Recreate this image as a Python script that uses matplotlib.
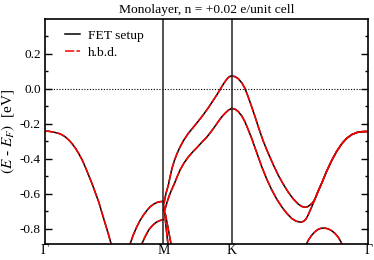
import numpy as np
import matplotlib
matplotlib.use("Agg")
import matplotlib.pyplot as plt

# ---- band data (k along G-M-K-G, energy in eV) ----
k_G, k_M, k_K, k_G2 = 0.0, 0.5774, 0.9107, 1.5774

band1_k = [0.0, 0.018, 0.0342, 0.050, 0.0668, 0.083, 0.0990, 0.1156, 0.1317, 0.148, 0.1644, 0.1805,
           0.1966, 0.213, 0.2293, 0.2454, 0.2620, 0.2864, 0.3108, 0.3235, 0.3330]
band1_e = [-0.242, -0.243, -0.246, -0.250, -0.255, -0.263, -0.275, -0.292, -0.313, -0.339, -0.370, -0.405,
           -0.447, -0.495, -0.542, -0.594, -0.647, -0.743, -0.838, -0.891, -0.930]

band2_k = [0.4080, 0.4147, 0.4300, 0.4474, 0.4630, 0.4796, 0.4960, 0.5123, 0.5290, 0.5450, 0.5610, 0.5774]
band2_e = [-0.930, -0.890, -0.838, -0.791, -0.755, -0.724, -0.698, -0.676, -0.661, -0.651, -0.646, -0.644]

band3_k = [0.4660, 0.4718, 0.4840, 0.4962, 0.5080, 0.5206, 0.5330, 0.5450, 0.5610, 0.5774]
band3_e = [-0.930, -0.890, -0.857, -0.829, -0.805, -0.787, -0.773, -0.762, -0.754, -0.748]

mk_up_k = [0.5774, 0.5806, 0.5900, 0.6016, 0.6110, 0.6196, 0.6300, 0.6426, 0.6580, 0.6748, 0.6990, 0.7236,
           0.7480, 0.7724, 0.7970, 0.8211, 0.8380, 0.8538, 0.8700, 0.8865, 0.8990, 0.9107]
mk_up_e = [-0.650, -0.655, -0.600, -0.552, -0.500, -0.455, -0.415, -0.375, -0.335, -0.298, -0.255, -0.220,
           -0.185, -0.148, -0.108, -0.065, -0.035, -0.005, 0.027, 0.055, 0.070, 0.074]

mk_lo_k = [0.5774, 0.5830, 0.5940, 0.6050, 0.6170, 0.6294, 0.6440, 0.6587, 0.6780, 0.6977, 0.7200, 0.7416,
           0.7660, 0.7904, 0.8150, 0.8392, 0.8590, 0.8782, 0.8950, 0.9107]
mk_lo_e = [-0.690, -0.700, -0.655, -0.615, -0.580, -0.548, -0.505, -0.465, -0.425, -0.392, -0.362, -0.336,
           -0.305, -0.275, -0.238, -0.198, -0.165, -0.140, -0.122, -0.112]

steep1_k = [0.5774, 0.5806, 0.5860, 0.5904, 0.5960, 0.6016, 0.6040]
steep1_e = [-0.660, -0.680, -0.735, -0.790, -0.848, -0.905, -0.930]
steep2_k = [0.5800, 0.5879, 0.5950, 0.6025, 0.6100, 0.6182, 0.6210]
steep2_e = [-0.700, -0.720, -0.763, -0.810, -0.858, -0.905, -0.930]

kg_up_k = [0.9107, 0.9270, 0.9431, 0.9600, 0.9758, 0.9920, 1.0085, 1.0250, 1.0407, 1.0650, 1.0895, 1.1140,
           1.1383, 1.1630, 1.1871, 1.2110, 1.2359, 1.2520, 1.2685, 1.2810, 1.2929, 1.3030, 1.3124,
           1.3173, 1.3330, 1.3500, 1.3740, 1.3988, 1.4230, 1.4476, 1.4720, 1.4964, 1.5210, 1.5452, 1.5774]
kg_up_e = [0.074, 0.070, 0.058, 0.035, 0.002, -0.048, -0.103, -0.160, -0.218, -0.300, -0.370, -0.435,
           -0.495, -0.547, -0.592, -0.630, -0.660, -0.673, -0.678, -0.675, -0.665, -0.655, -0.640,
           -0.630, -0.585, -0.540, -0.472, -0.410, -0.358, -0.315, -0.283, -0.262, -0.250, -0.245, -0.244]

kg_lo_k = [0.9107, 0.9270, 0.9431, 0.9600, 0.9758, 0.9920, 1.0085, 1.0330, 1.0573, 1.0820, 1.1061, 1.1300,
           1.1549, 1.1790, 1.2036, 1.2260, 1.2490, 1.2620, 1.2734, 1.2840, 1.2929, 1.3050, 1.3173, 1.3330,
           1.3500, 1.3740, 1.3988, 1.4230, 1.4476, 1.4720, 1.4964, 1.5210, 1.5452, 1.5774]
kg_lo_e = [-0.112, -0.116, -0.130, -0.155, -0.189, -0.235, -0.284, -0.365, -0.445, -0.517, -0.578, -0.630,
           -0.675, -0.712, -0.742, -0.758, -0.764, -0.758, -0.745, -0.722, -0.698, -0.665, -0.630, -0.585,
           -0.540, -0.472, -0.410, -0.358, -0.315, -0.283, -0.262, -0.250, -0.245, -0.244]

small_k = [1.2600, 1.2685, 1.2850, 1.3012, 1.3170, 1.3334, 1.3480, 1.3627, 1.3800, 1.3988, 1.4150, 1.4310,
           1.4430, 1.4554, 1.4640]
small_e = [-0.940, -0.905, -0.866, -0.838, -0.818, -0.804, -0.798, -0.797, -0.801, -0.812, -0.828, -0.850,
           -0.874, -0.905, -0.940]

bands = [(band1_k, band1_e), (band2_k, band2_e), (band3_k, band3_e),
         (mk_up_k, mk_up_e), (mk_lo_k, mk_lo_e), (steep1_k, steep1_e), (steep2_k, steep2_e),
         (kg_up_k, kg_up_e), (kg_lo_k, kg_lo_e), (small_k, small_e)]

tick_pos = [k_G, k_M, k_K, k_G2]
tick_labels = ["Γ", "M", "K", "Γ"]

plt.rcParams["font.family"] = ["Liberation Serif", "DejaVu Serif"]
plt.rcParams["mathtext.fontset"] = "stix"

fig = plt.figure(figsize=(3.74, 2.6), dpi=100)
ax = fig.add_axes([0.1203, 0.0604, 0.8645, 0.8665])

for i, (kk, ee) in enumerate(bands):
    ax.plot(kk, ee, color="black", lw=1.1, label="FET setup" if i == 0 else None)
for i, (kk, ee) in enumerate(bands):
    ax.plot(kk, ee, color="#ff0000", lw=1.1, dashes=(6, 1.5), label="h.b.d." if i == 0 else None)

ax.axhline(0.0, color="black", lw=0.8, ls=(0, (1, 1.5)))
for x in (k_M, k_K):
    ax.axvline(x, color="#222222", lw=1.1)

ax.set_xlim(k_G, k_G2)
ax.set_ylim(-0.89, 0.4)
ax.set_xticks(tick_pos)
ax.set_xticklabels(tick_labels, fontsize=10)
ax.tick_params(axis="x", length=0, pad=0)
ax.set_yticks([-0.8, -0.6, -0.4, -0.2, 0.0, 0.2])
ax.set_yticks(np.arange(-0.8, 0.35, 0.1), minor=True)
ax.yaxis.set_major_formatter(matplotlib.ticker.FormatStrFormatter("%.1f"))
ax.tick_params(axis="y", which="major", direction="in", length=5, width=1, right=True, labelsize=9.5, pad=3)
ax.tick_params(axis="y", which="minor", direction="in", length=2.5, width=1, right=True)
for s in ax.spines.values():
    s.set_linewidth(1.2)

ax.set_ylabel(r"$(E$ - $E_F)$  [eV]", fontsize=11, labelpad=2)
ax.set_title("Monolayer, n = +0.02 e/unit cell", fontsize=9.7, pad=4)

ax.legend(loc="upper left", frameon=False, fontsize=9.7, handlelength=1.1,
          handletextpad=0.6, labelspacing=0.35, borderaxespad=0.0, bbox_to_anchor=(0.045, 0.978))

fig.savefig("out.png", dpi=100)
